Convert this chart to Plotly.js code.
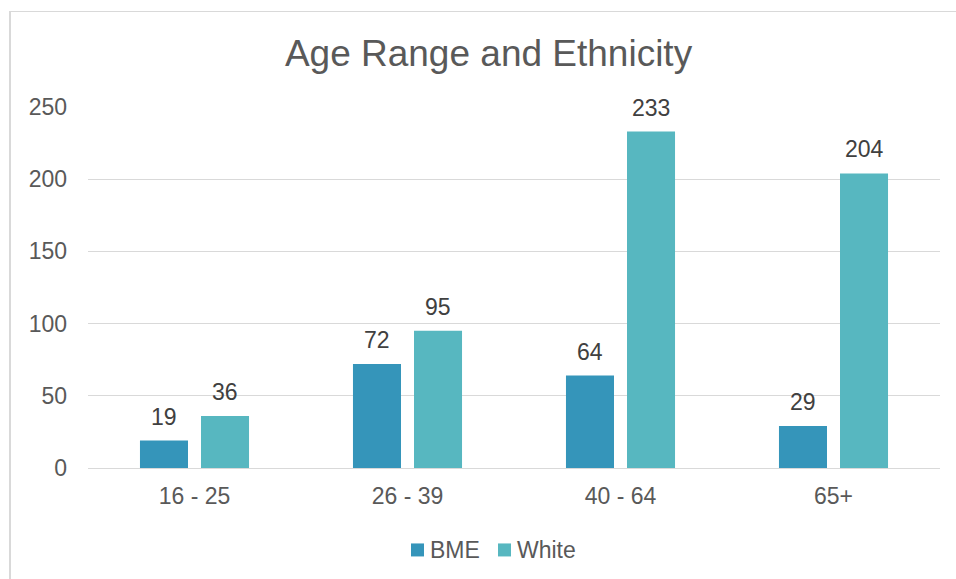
<!DOCTYPE html>
<html>
<head>
<meta charset="utf-8">
<script src="https://cdn.plot.ly/plotly-3.0.1.min.js"></script>
<style>
html,body{margin:0;padding:0;background:#fff;overflow:hidden;}
#frame{position:absolute;left:9px;top:11px;width:1000px;height:700px;border:1px solid #d9d9d9;border-left:2px solid #d9d9d9;box-sizing:border-box;}
#chart{position:absolute;left:0;top:0;width:956px;height:579px;}
</style>
</head>
<body>
<div id="frame"></div>
<div id="chart"></div>
<script>
const categories = ["16 - 25", "26 - 39", "40 - 64", "65+"];
const seriesNames = ["BME", "White"];
const seriesColors = ["#3595BA", "#57B7C0"];
const bmeValues = [19, 72, 64, 29];
const whiteValues = [36, 95, 233, 204];
const yTicks = [0, 50, 100, 150, 200, 250];

const FONT = "Arial";
const seriesValues = [bmeValues, whiteValues];

const traces = seriesValues.map((vals, i) => ({
  type: "bar", name: seriesNames[i], x: categories, y: vals,
  marker: {color: seriesColors[i]}, hoverinfo: "none", showlegend: false
}));

// data labels above bars
const offsets = [-30.5, 30.5];
const annotations = [];
seriesValues.forEach((vals, i) => {
  vals.forEach((v, j) => {
    annotations.push({
      x: categories[j], y: v, xref: "x", yref: "y", text: String(v), showarrow: false,
      xshift: offsets[i], yshift: 24, yanchor: "middle", xanchor: "center",
      font: {family: FONT, size: 23, color: "#404040"}
    });
  });
});

// custom legend
const shapes = [];
const legendY = -0.227;
const legendItems = [{sq: 411, tx: 429}, {sq: 498, tx: 516}];
seriesNames.forEach((name, i) => {
  const x0 = (legendItems[i].sq - 88) / 852;
  const x1 = (legendItems[i].sq + 13 - 88) / 852;
  shapes.push({type: "rect", xref: "paper", yref: "paper", x0: x0, x1: x1,
    y0: legendY - 6.5 / 361, y1: legendY + 6.5 / 361, fillcolor: seriesColors[i], line: {width: 0}});
  annotations.push({xref: "paper", yref: "paper", x: (legendItems[i].tx - 88) / 852, y: legendY,
    xanchor: "left", yanchor: "middle", text: name, showarrow: false,
    font: {family: FONT, size: 23, color: "#595959"}, borderpad: 0});
});

const layout = {
  width: 956, height: 579,
  paper_bgcolor: "rgba(0,0,0,0)", plot_bgcolor: "rgba(0,0,0,0)",
  margin: {l: 88, r: 16, t: 107, b: 111},
  font: {family: FONT, color: "#595959"},
  title: {text: "Age Range and Ethnicity", font: {family: FONT, size: 37, color: "#595959"}, x: 0.511, xanchor: "center", y: 0.908, yanchor: "middle"},
  barmode: "group", bargap: 0.427, bargroupgap: 0.213,
  showlegend: false,
  annotations: annotations, shapes: shapes,
  xaxis: {type: "category", showgrid: false, showline: false, zeroline: false, ticks: "", tickfont: {family: FONT, size: 23, color: "#595959"}, ticklabelstandoff: 12, fixedrange: true},
  yaxis: {range: [0, 250], tickvals: yTicks, ticktext: yTicks.map(String), showgrid: true, gridcolor: "#d9d9d9", gridwidth: 1, zeroline: true, zerolinecolor: "#d9d9d9", zerolinewidth: 1, showline: false, ticks: "", tickfont: {family: FONT, size: 23, color: "#595959"}, ticklabelstandoff: 20, fixedrange: true}
};

Plotly.newPlot("chart", traces, layout, {displayModeBar: false, staticPlot: true});
</script>
</body>
</html>
